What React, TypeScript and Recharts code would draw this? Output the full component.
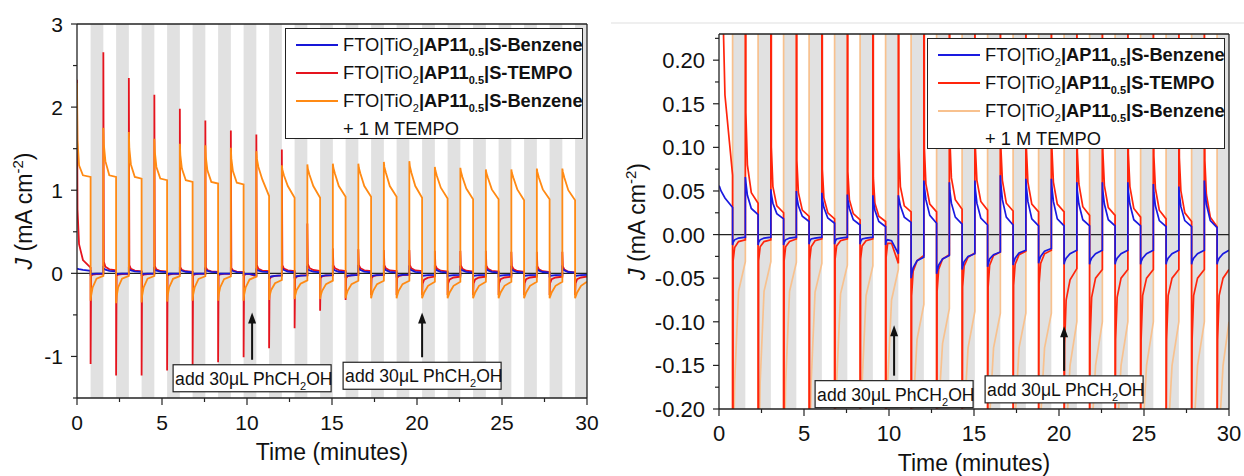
import { LineChart, Line, XAxis, YAxis, ReferenceArea, ReferenceLine, Legend } from 'recharts';

const FONT = '"Liberation Sans", Arial, Helvetica, sans-serif';

// chopped light: light on / light off (dark band) times, minutes
const lightOn = [0, 1.55, 3.05, 4.55, 6.05, 7.55, 9.05, 10.55, 12.05, 13.55, 15.05, 16.55, 18.05, 19.55, 21.05, 22.55, 24.05, 25.55, 27.05, 28.55];
const darkOn = [0.8, 2.3, 3.8, 5.3, 6.8, 8.3, 9.8, 11.3, 12.8, 14.3, 15.8, 17.3, 18.8, 20.3, 21.8, 23.3, 24.8, 26.3, 27.8, 29.3];
// each row: J at switch, +0.03, +0.12, +0.35 min, and at the next switch
const sampleOffsets = [0, 0.03, 0.12, 0.35];

const blueLight = [
  [0.056, 0.055, 0.05, 0.042, 0.031], [0.066, 0.06, 0.045, 0.03, 0.023], [0.052, 0.046, 0.036, 0.024, 0.018],
  [0.05, 0.043, 0.033, 0.021, 0.015], [0.048, 0.041, 0.031, 0.019, 0.013], [0.046, 0.04, 0.03, 0.017, 0.011],
  [0.045, 0.038, 0.028, 0.015, 0.009], [0.045, 0.042, 0.033, 0.02, 0.014], [0.062, 0.055, 0.04, 0.022, 0.013],
  [0.06, 0.05, 0.036, 0.02, 0.012], [0.062, 0.052, 0.036, 0.019, 0.011], [0.068, 0.058, 0.04, 0.02, 0.011],
  [0.064, 0.055, 0.038, 0.018, 0.01], [0.064, 0.055, 0.038, 0.018, 0.01], [0.06, 0.05, 0.035, 0.017, 0.01],
  [0.06, 0.05, 0.035, 0.017, 0.01], [0.06, 0.05, 0.035, 0.017, 0.01], [0.058, 0.048, 0.033, 0.016, 0.009],
  [0.055, 0.046, 0.032, 0.016, 0.009], [0.062, 0.052, 0.035, 0.016, 0.008],
];
const blueDark = [
  [-0.012, -0.009, -0.006, -0.004, -0.003], [-0.012, -0.009, -0.006, -0.004, -0.003], [-0.012, -0.009, -0.006, -0.004, -0.003],
  [-0.011, -0.008, -0.005, -0.004, -0.003], [-0.011, -0.008, -0.005, -0.004, -0.003], [-0.011, -0.008, -0.005, -0.004, -0.003],
  [-0.012, -0.008, -0.006, -0.007, -0.022], [-0.05, -0.046, -0.038, -0.03, -0.026], [-0.045, -0.042, -0.035, -0.028, -0.024],
  [-0.04, -0.037, -0.031, -0.025, -0.022], [-0.037, -0.034, -0.028, -0.023, -0.02], [-0.035, -0.032, -0.027, -0.021, -0.018],
  [-0.033, -0.03, -0.025, -0.019, -0.016], [-0.034, -0.031, -0.027, -0.022, -0.018], [-0.034, -0.031, -0.027, -0.022, -0.018],
  [-0.034, -0.031, -0.027, -0.022, -0.018], [-0.034, -0.031, -0.027, -0.022, -0.018], [-0.034, -0.031, -0.027, -0.022, -0.018],
  [-0.034, -0.031, -0.027, -0.022, -0.018], [-0.034, -0.031, -0.027, -0.022, -0.018],
];
const redLight = [
  [2.33, 0.77, 0.35, 0.16, 0.068], [2.66, 0.14, 0.08, 0.048, 0.036], [2.35, 0.1, 0.055, 0.033, 0.025],
  [2.15, 0.085, 0.048, 0.028, 0.021], [1.98, 0.075, 0.042, 0.025, 0.018], [1.84, 0.072, 0.04, 0.024, 0.017],
  [1.72, 0.065, 0.036, 0.021, 0.015], [1.67, 0.1, 0.055, 0.033, 0.026], [1.49, 0.1, 0.058, 0.035, 0.026],
  [0.6, 0.11, 0.065, 0.04, 0.029], [0.3, 0.1, 0.062, 0.038, 0.028], [0.29, 0.1, 0.062, 0.036, 0.027],
  [0.28, 0.1, 0.06, 0.035, 0.026], [0.28, 0.1, 0.06, 0.035, 0.026], [0.27, 0.095, 0.058, 0.032, 0.022],
  [0.27, 0.095, 0.056, 0.031, 0.022], [0.27, 0.093, 0.055, 0.03, 0.02], [0.26, 0.09, 0.053, 0.028, 0.018],
  [0.26, 0.088, 0.05, 0.025, 0.015], [0.26, 0.085, 0.046, 0.02, 0.009],
];
const redDark = [
  [-1.09, -0.03, -0.015, -0.008, -0.006], [-1.23, -0.03, -0.014, -0.008, -0.006], [-1.23, -0.03, -0.014, -0.008, -0.005],
  [-1.17, -0.03, -0.014, -0.007, -0.005], [-1.11, -0.028, -0.013, -0.007, -0.005], [-1.07, -0.028, -0.013, -0.007, -0.005],
  [-1.01, -0.026, -0.01, -0.01, -0.033], [-0.9, -0.07, -0.042, -0.03, -0.024], [-0.66, -0.065, -0.04, -0.028, -0.023],
  [-0.45, -0.06, -0.036, -0.026, -0.021], [-0.32, -0.06, -0.035, -0.024, -0.02], [-0.26, -0.058, -0.034, -0.023, -0.019],
  [-0.26, -0.056, -0.033, -0.022, -0.018], [-0.26, -0.125, -0.075, -0.052, -0.039], [-0.26, -0.12, -0.072, -0.05, -0.04],
  [-0.26, -0.12, -0.072, -0.05, -0.04], [-0.26, -0.12, -0.07, -0.05, -0.04], [-0.26, -0.12, -0.07, -0.05, -0.04],
  [-0.26, -0.12, -0.07, -0.05, -0.04], [-0.26, -0.12, -0.07, -0.05, -0.04],
];
const orangeLight = [
  [2.29, 1.6, 1.3, 1.18, 1.16], [1.75, 1.55, 1.35, 1.18, 1.16], [1.7, 1.5, 1.31, 1.16, 1.14],
  [1.62, 1.46, 1.28, 1.14, 1.12], [1.56, 1.42, 1.26, 1.12, 1.1], [1.54, 1.4, 1.24, 1.1, 1.08],
  [1.51, 1.38, 1.23, 1.09, 1.07], [1.47, 1.38, 1.28, 1.13, 0.93], [1.3, 1.25, 1.18, 1.05, 0.91],
  [1.31, 1.26, 1.19, 1.05, 0.91], [1.32, 1.27, 1.2, 1.05, 0.92], [1.32, 1.27, 1.2, 1.05, 0.92],
  [1.34, 1.28, 1.21, 1.05, 0.92], [1.35, 1.29, 1.21, 1.05, 0.91], [1.28, 1.24, 1.17, 1.03, 0.9],
  [1.27, 1.23, 1.16, 1.02, 0.89], [1.25, 1.21, 1.15, 1.01, 0.89], [1.25, 1.21, 1.15, 1.01, 0.88],
  [1.26, 1.22, 1.15, 1.01, 0.89], [1.26, 1.22, 1.15, 1.0, 0.88],
];
const orangeDark = [
  [-0.33, -0.27, -0.17, -0.065, -0.031], [-0.36, -0.28, -0.17, -0.065, -0.031], [-0.35, -0.27, -0.17, -0.065, -0.032],
  [-0.34, -0.27, -0.17, -0.066, -0.033], [-0.33, -0.26, -0.17, -0.068, -0.035], [-0.33, -0.26, -0.17, -0.07, -0.036],
  [-0.33, -0.26, -0.17, -0.075, -0.04], [-0.32, -0.27, -0.2, -0.12, -0.08], [-0.31, -0.27, -0.2, -0.125, -0.085],
  [-0.31, -0.27, -0.21, -0.13, -0.088], [-0.3, -0.27, -0.21, -0.13, -0.09], [-0.3, -0.27, -0.21, -0.13, -0.09],
  [-0.3, -0.27, -0.21, -0.13, -0.09], [-0.3, -0.28, -0.23, -0.15, -0.1], [-0.3, -0.28, -0.23, -0.15, -0.1],
  [-0.3, -0.28, -0.23, -0.15, -0.1], [-0.3, -0.28, -0.23, -0.15, -0.1], [-0.3, -0.28, -0.23, -0.15, -0.1],
  [-0.3, -0.28, -0.23, -0.15, -0.1], [-0.3, -0.28, -0.23, -0.15, -0.1],
];

const xTicks = [0, 2.5, 5, 7.5, 10, 12.5, 15, 17.5, 20, 22.5, 25, 27.5, 30];
const xLabels = [0, 5, 10, 15, 20, 25, 30];
const leftYTicks = [-1.5, -1, -0.5, 0, 0.5, 1, 1.5, 2, 2.5, 3];
const leftYLabels = [-1, 0, 1, 2, 3];
const rightYTicks = [-0.2, -0.175, -0.15, -0.125, -0.1, -0.075, -0.05, -0.025, 0, 0.025, 0.05, 0.075, 0.1, 0.125, 0.15, 0.175, 0.2, 0.225];
const rightYLabels = [-0.2, -0.15, -0.1, -0.05, 0, 0.05, 0.1, 0.15, 0.2];

const additionTimes = [10.3, 20.3];
const legendEnds = ['S-Benzene', 'S-TEMPO', 'S-Benzene'];
const legendNote = '+ 1 M TEMPO';

type Pt = { t: number; j: number };
function buildTrace(light: number[][], dark: number[][]): Pt[] {
  const pts: Pt[] = [];
  lightOn.forEach((on, k) => {
    const off = darkOn[k];
    const next = k + 1 < lightOn.length ? lightOn[k + 1] : 30;
    sampleOffsets.forEach((o, i) => pts.push({ t: on + o, j: light[k][i] }));
    pts.push({ t: off, j: light[k][4] });
    sampleOffsets.forEach((o, i) => pts.push({ t: off + o, j: dark[k][i] }));
    pts.push({ t: next, j: dark[k][4] });
  });
  return pts;
}

const traces: Record<string, Pt[]> = {
  blue: buildTrace(blueLight, blueDark),
  red: buildTrace(redLight, redDark),
  orange: buildTrace(orangeLight, orangeDark),
};

const has = (list: number[], v: number) => list.some((l) => Math.abs(l - v) < 1e-6);

function LegendBox({ colors, width, height }: { colors: string[]; width: number; height: number }) {
  const sub = { fontSize: 11, position: 'relative' as const, top: 5 };
  return (
    <div style={{ width, height, boxSizing: 'border-box', border: '1.5px solid #222', background: '#fff', fontFamily: FONT, fontSize: 18.3, color: '#111', position: 'relative' }}>
      {legendEnds.map((end, i) => (
        <div key={i} style={{ position: 'absolute', left: 10, top: 4 + i * 28, height: 24, display: 'flex', alignItems: 'center', whiteSpace: 'nowrap' }}>
          <span style={{ display: 'inline-block', width: 42, height: 2, background: colors[i], marginRight: 5 }} />
          <span>
            FTO|TiO<span style={sub}>2</span>
            <b>|AP11<span style={sub}>0.5</span>|{end}</b>
          </span>
        </div>
      ))}
      <div style={{ position: 'absolute', left: 57, top: 88, height: 24, lineHeight: '24px', whiteSpace: 'nowrap' }}>{legendNote}</div>
    </div>
  );
}

const Annotation = (p: any) => {
  const { x1, y1, y2 } = p;
  const w = 158;
  const h = 27;
  return (
    <g>
      <line x1={x1} x2={x1} y1={y1 - 5} y2={y2 + 9} stroke="#111" strokeWidth={2} />
      <polygon points={`${x1},${y2} ${x1 - 4},${y2 + 11} ${x1 + 4},${y2 + 11}`} fill="#111" />
      <rect x={x1 - w / 2} y={y1} width={w} height={h} fill="#fff" stroke="#222" strokeWidth={1.2} />
      <text x={x1 - w / 2 + 2} y={y1 + 20} fontSize={17.6} fontFamily={FONT} fill="#111">
        add 30μL PhCH<tspan fontSize={11} dy={5}>2</tspan>
        <tspan dy={-5}>OH</tspan>
      </text>
    </g>
  );
};

type PanelProps = {
  width: number;
  top: number;
  right: number;
  yAxisWidth: number;
  xAxisHeight: number;
  yDomain: [number, number];
  yTicks: number[];
  yLabels: number[];
  yFmt: (v: number) => string;
  tickFont: number;
  colors: Record<string, string>;
  order: string[];
  lineWidth: number;
  legendLeft: number;
  legendTop: number;
  annoTop: number[];
  annoTip: number[];
  titleX: number;
};

function Panel(c: PanelProps) {
  const XTick = (p: any) => {
    const v = p.payload.value;
    const major = has(xLabels, v);
    return (
      <g>
        <line x1={p.x} x2={p.x} y1={p.y} y2={p.y + (major ? 7 : 4)} stroke="#222" strokeWidth={1.2} />
        {major && (
          <text x={p.x} y={p.y + 32} textAnchor="middle" fontSize={c.tickFont} fontFamily={FONT} fill="#111">
            {String(v)}
          </text>
        )}
      </g>
    );
  };
  const YTick = (p: any) => {
    const v = p.payload.value;
    const major = has(c.yLabels, v);
    return (
      <g>
        <line x1={p.x} x2={p.x - (major ? 6 : 4)} y1={p.y} y2={p.y} stroke="#222" strokeWidth={1.2} />
        {major && (
          <text x={p.x - 14} y={p.y + c.tickFont * 0.36} textAnchor="end" fontSize={c.tickFont} fontFamily={FONT} fill="#111">
            {c.yFmt(v)}
          </text>
        )}
      </g>
    );
  };
  const XTitle = (p: any) => {
    const vb = p.viewBox;
    return (
      <text x={vb.x + vb.width / 2} y={vb.y + 62} textAnchor="middle" fontSize={23} fontFamily={FONT} fill="#111">
        Time (minutes)
      </text>
    );
  };
  const YTitle = (p: any) => {
    const vb = p.viewBox;
    const cx = vb.x + c.titleX;
    const cy = vb.y + vb.height / 2;
    return (
      <text x={cx} y={cy} transform={`rotate(-90 ${cx} ${cy})`} textAnchor="middle" fontSize={23} fontFamily={FONT} fill="#111">
        <tspan fontStyle="italic">J</tspan> (mA cm<tspan fontSize={15} dy={-9}>-2</tspan>
        <tspan dy={9}>)</tspan>
      </text>
    );
  };

  return (
    <LineChart width={c.width} height={476} margin={{ top: c.top, right: c.right, bottom: 0, left: 0 }}>
      {darkOn.map((s, k) => (
        <ReferenceArea key={`band${k}`} x1={s} x2={k + 1 < lightOn.length ? lightOn[k + 1] : 30} fill="#e1e1e1" fillOpacity={1} stroke="none" ifOverflow="hidden" />
      ))}
      <XAxis type="number" dataKey="t" domain={[0, 30]} ticks={xTicks} interval={0} allowDataOverflow height={c.xAxisHeight}
        tickSize={0} tickMargin={0} tickLine={false} axisLine={{ stroke: '#222', strokeWidth: 1.3 }} tick={XTick} label={XTitle} />
      <YAxis type="number" domain={c.yDomain} ticks={c.yTicks} interval={0} allowDataOverflow width={c.yAxisWidth}
        tickSize={0} tickMargin={0} tickLine={false} axisLine={{ stroke: '#222', strokeWidth: 1.3 }} tick={YTick} label={YTitle} />
      <ReferenceLine y={0} stroke="#222" strokeWidth={1.2} />
      {c.order.map((s) => (
        <Line key={s} data={traces[s]} dataKey="j" type="linear" stroke={c.colors[s]} strokeWidth={c.lineWidth} dot={false} activeDot={false} isAnimationActive={false} />
      ))}
      <ReferenceLine x={30} stroke="#222" strokeWidth={1.3} />
      <ReferenceLine y={c.yDomain[1]} stroke="#222" strokeWidth={1.3} />
      {additionTimes.map((t, i) => (
        <ReferenceLine key={`add${i}`} segment={[{ x: t, y: c.annoTop[i] }, { x: t, y: c.annoTip[i] }]} shape={Annotation} />
      ))}
      <Legend layout="vertical" align="center" verticalAlign="middle"
        wrapperStyle={{ left: c.legendLeft, top: c.legendTop, width: 298, height: 112 }}
        content={() => <LegendBox colors={[c.colors.blue, c.colors.red, c.colors.orange]} width={298} height={111} />} />
    </LineChart>
  );
}

export default function App() {
  return (
    <div style={{ position: 'fixed', left: 0, top: 0, width: 1244, height: 476, background: '#fff', overflow: 'hidden' }}>
      <div style={{ position: 'absolute', left: 611, top: 22, width: 633, height: 2, background: '#efefef' }} />
      <div style={{ position: 'absolute', left: 0, top: 0 }}>
        <Panel width={600} top={24} right={13} yAxisWidth={77} xAxisHeight={78} yDomain={[-1.5, 3]}
          yTicks={leftYTicks} yLabels={leftYLabels} yFmt={(v) => String(v)} tickFont={21}
          colors={{ blue: '#1717d8', red: '#e5141e', orange: '#ff8a14' }} order={['red', 'blue', 'orange']} lineWidth={1.8}
          legendLeft={285} legendTop={28} annoTop={[-1.1, -1.07]} annoTip={[-0.47, -0.47]} titleX={32} />
      </div>
      <div style={{ position: 'absolute', left: 612, top: 0 }}>
        <Panel width={632} top={34} right={15} yAxisWidth={107} xAxisHeight={67} yDomain={[-0.2, 0.23]}
          yTicks={rightYTicks} yLabels={rightYLabels} yFmt={(v) => v.toFixed(2)} tickFont={22}
          colors={{ blue: '#1a1ae0', red: '#ff250c', orange: '#f8c18e' }} order={['orange', 'red', 'blue']} lineWidth={1.7}
          legendLeft={315} legendTop={38} annoTop={[-0.1675, -0.162]} annoTip={[-0.104, -0.105]} titleX={33} />
      </div>
    </div>
  );
}
